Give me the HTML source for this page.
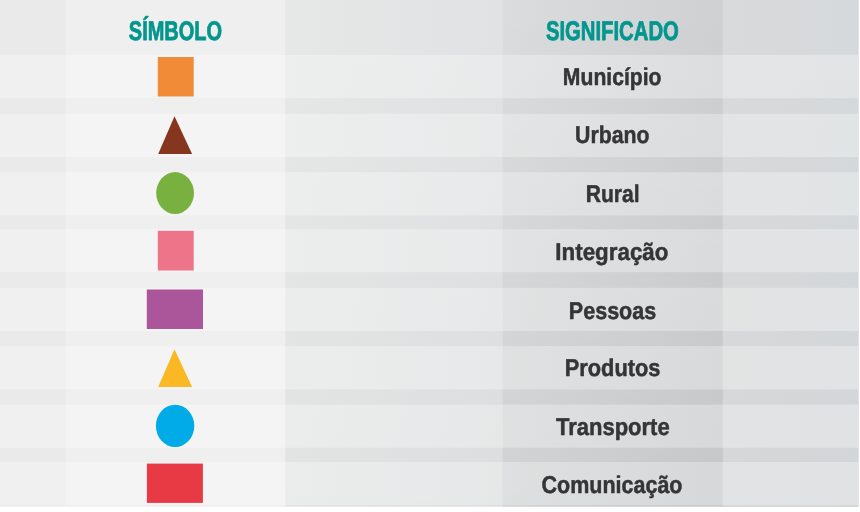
<!DOCTYPE html>
<html lang="pt-BR">
<head>
<meta charset="utf-8">
<title>Símbolo / Significado</title>
<style>
  html, body { margin: 0; padding: 0; background: #ffffff; }
  body { width: 860px; height: 512px; overflow: hidden; position: relative;
         font-family: "Liberation Sans", sans-serif; }
  .legend { position: absolute; left: 0; top: 0; width: 860px; height: 512px; overflow: hidden;
            background: #ffffff; }
  svg.shape { position: absolute; left: 0; top: 0; width: 860px; height: 512px; will-change: transform; }
  svg.shape text { font-family: "Liberation Sans", sans-serif; font-weight: bold; text-rendering: geometricPrecision; stroke-linejoin: round; }
  .hd { font-size: 27px; fill: #03968f; stroke: #03968f; stroke-width: 0.8px; }
  .lb { font-size: 24.3px; fill: #353436; stroke: #353436; stroke-width: 0.5px; }
</style>
</head>
<body>
<div class="legend">

  <svg class="shape" viewBox="0 0 860 512" role="img" aria-label="Legenda: símbolo e significado">
    <defs>
      <linearGradient id="gmid" gradientUnits="userSpaceOnUse" x1="285.3" y1="0" x2="502.5" y2="0"><stop offset="0" stop-color="#e6e8e8"/><stop offset="1" stop-color="#e0e2e3"/></linearGradient>
      <linearGradient id="gband" gradientUnits="userSpaceOnUse" x1="502.5" y1="0" x2="722.8" y2="0"><stop offset="0" stop-color="#dadcdd"/><stop offset="1" stop-color="#ced0d2"/></linearGradient>
      <linearGradient id="gright" gradientUnits="userSpaceOnUse" x1="722.8" y1="0" x2="858.3" y2="0"><stop offset="0" stop-color="#d8dadb"/><stop offset="1" stop-color="#d6d9db"/></linearGradient>
      <linearGradient id="vshade" gradientUnits="userSpaceOnUse" x1="0" y1="0" x2="0" y2="506.5"><stop offset="0" stop-color="#000000" stop-opacity="0"/><stop offset="1" stop-color="#000000" stop-opacity="1"/></linearGradient>
    </defs>
    <g id="columns">
      <rect x="0" y="0" width="858.3" height="506.5" fill="#eaeaea"/>
      <rect x="65.8" y="0" width="792.5" height="506.5" fill="#efefef"/>
      <rect x="285.3" y="0" width="573" height="506.5" fill="url(#gmid)"/>
      <rect x="502.5" y="0" width="355.8" height="506.5" fill="url(#gband)"/>
      <rect x="722.8" y="0" width="135.5" height="506.5" fill="url(#gright)"/>
      <rect x="285.3" y="0" width="217.2" height="506.5" fill="url(#vshade)" opacity="0.02"/>
      <rect x="502.5" y="0" width="220.3" height="506.5" fill="url(#vshade)" opacity="0.045"/>
      <rect x="722.8" y="0" width="135.5" height="506.5" fill="url(#vshade)" opacity="0.015"/>
    </g>
    <g id="rows" fill="#ffffff" fill-opacity="0.3">
      <rect x="0" y="54.8" width="858.3" height="43.5"/>
      <rect x="0" y="113.8" width="858.3" height="43.3"/>
      <rect x="0" y="172.2" width="858.3" height="43.3"/>
      <rect x="0" y="229.2" width="858.3" height="43.0"/>
      <rect x="0" y="287.8" width="858.3" height="43.2"/>
      <rect x="0" y="346.1" width="858.3" height="43.4"/>
      <rect x="0" y="404.6" width="858.3" height="43.2"/>
      <rect x="0" y="462" width="858.3" height="43.1"/>
    </g>
    <rect x="157.8" y="57" width="35.9" height="39.5" fill="#f28b38"/>
    <polygon points="174.5,116.3 192.1,153.9 158.2,153.9" fill="#86361f"/>
    <ellipse cx="175.1" cy="193.05" rx="18.9" ry="20.95" fill="#79b140"/>
    <rect x="157.8" y="230.8" width="35.9" height="39.7" fill="#ee7489"/>
    <rect x="146.8" y="289.5" width="56.2" height="39.5" fill="#ab559b"/>
    <polygon points="174.5,349.3 192.1,386.9 158.2,386.9" fill="#fbb825"/>
    <ellipse cx="175.1" cy="425.9" rx="19.2" ry="21.15" fill="#00abe7"/>
    <rect x="146.9" y="463.6" width="56" height="39.3" fill="#e73a45"/>
    <g id="labels">
      <text class="hd" x="128.85" y="39.80" textLength="93.26" lengthAdjust="spacingAndGlyphs">SÍMBOLO</text>
      <text class="hd" x="545.95" y="39.90" textLength="132.86" lengthAdjust="spacingAndGlyphs">SIGNIFICADO</text>
      <text class="lb" x="562.85" y="84.90" textLength="98.68" lengthAdjust="spacingAndGlyphs">Município</text>
      <text class="lb" x="575.10" y="143.00" textLength="74.49" lengthAdjust="spacingAndGlyphs">Urbano</text>
      <text class="lb" x="585.75" y="201.70" textLength="53.92" lengthAdjust="spacingAndGlyphs">Rural</text>
      <text class="lb" x="555.35" y="259.80" textLength="113.08" lengthAdjust="spacingAndGlyphs">Integração</text>
      <text class="lb" x="568.85" y="318.50" textLength="87.39" lengthAdjust="spacingAndGlyphs">Pessoas</text>
      <text class="lb" x="564.65" y="376.30" textLength="95.85" lengthAdjust="spacingAndGlyphs">Produtos</text>
      <text class="lb" x="555.90" y="435.00" textLength="113.80" lengthAdjust="spacingAndGlyphs">Transporte</text>
      <text class="lb" x="541.55" y="492.50" textLength="140.96" lengthAdjust="spacingAndGlyphs">Comunicação</text>
    </g>
  </svg>

</div>
</body>
</html>
